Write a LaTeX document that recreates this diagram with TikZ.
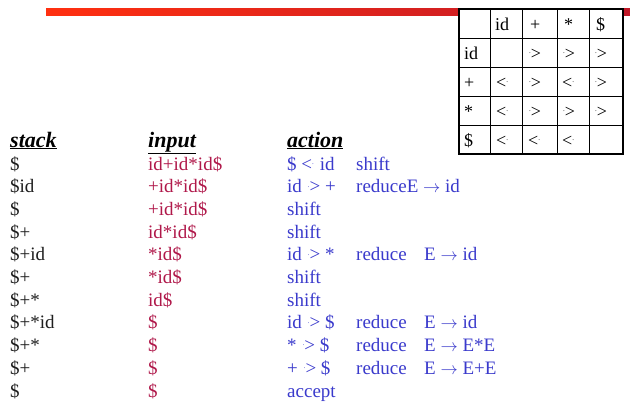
\documentclass[tikz,border=0pt]{standalone}
\usepackage{fontspec}
\setmainfont{Liberation Serif}
\definecolor{inred}{HTML}{B0184A}
\definecolor{actblue}{HTML}{3A3ACC}
\definecolor{stk}{HTML}{1E1E1E}
\definecolor{barA}{HTML}{FF3010}
\definecolor{barB}{HTML}{C01828}
\newcommand\dotgt{{\kern0.15em\llap{\raisebox{0.3em}{\fontsize{7}{7}\selectfont.}}>}}
\newcommand\dotlt{{<\rlap{\raisebox{0.3em}{\fontsize{7}{7}\selectfont.}}\kern0.15em}}
\tikzset{
  txt/.style={anchor=base west, inner sep=0pt, font=\fontsize{19}{22}\selectfont},
  stc/.style={txt, text=stk},
  inp/.style={txt, text=inred},
  act/.style={txt, text=actblue},
  head/.style={anchor=base west, inner sep=0pt, text=black, font=\fontsize{22}{26}\selectfont\bfseries\itshape},
  cell/.style={anchor=base west, inner sep=0pt, text=black, font=\fontsize{18}{21}\selectfont},
  thin/.style={line width=0.8pt, black},
  thick/.style={line width=2pt, black}
}
\begin{document}
\begin{tikzpicture}[x=1pt,y=-1pt]
\useasboundingbox (0,0) rectangle (630,408);
\fill[white] (0,0) rectangle (630,408);
% top bar
\shade[left color=barA, right color=barB] (46,8) rectangle (630,15);
% table
\fill[white] (459,9) rectangle (623,154);
\foreach \x in {490,522,557,589} \draw[thin] (\x,9) -- (\x,154);
\foreach \y in {38,67,96,125} \draw[thin] (459,\y) -- (623,\y);
\draw[thick] (459,9) rectangle (623,154);
% table header row
\node[cell] (h1) at (495,30) {id};
\node[cell] (h2) at (530,30) {+};
\node[cell] (h3) at (564,30) {*};
\node[cell] (h4) at (596,30) {\$};
% row labels
\node[cell] (r1) at (464,59) {id};
\node[cell] (r2) at (464,88) {+};
\node[cell] (r3) at (464,117) {*};
\node[cell] (r4) at (464,146) {\$};
% relations
\node[cell] (c12) at (528,59) {\dotgt};
\node[cell] (c13) at (562,59) {\dotgt};
\node[cell] (c14) at (594,59) {\dotgt};
\node[cell] (c21) at (496,88) {\dotlt};
\node[cell] (c22) at (528,88) {\dotgt};
\node[cell] (c23) at (562,88) {\dotlt};
\node[cell] (c24) at (594,88) {\dotgt};
\node[cell] (c31) at (496,117) {\dotlt};
\node[cell] (c32) at (528,117) {\dotgt};
\node[cell] (c33) at (562,117) {\dotgt};
\node[cell] (c34) at (594,117) {\dotgt};
\node[cell] (c41) at (496,146) {\dotlt};
\node[cell] (c42) at (528,146) {\dotlt};
\node[cell] (c43) at (562,146) {\dotlt};
% headers
\node[head] (hs) at (10,147) {\underline{stack}};
\node[head] (hi) at (148,147) {\underline{input}};
\node[head] (ha) at (287,147) {\underline{action}};
% rows
\foreach \i/\s/\n/\a/\b/\c in {
  0/{\$}/{id+id*id\$}/{\$ \dotlt{} id}/{shift}/{},
  1/{\$id}/{+id*id\$}/{id \dotgt{} +}/{reduceE $\rightarrow$ id}/{},
  2/{\$}/{+id*id\$}/{shift}/{}/{},
  3/{\$+}/{id*id\$}/{shift}/{}/{},
  4/{\$+id}/{*id\$}/{id \dotgt{} *}/{reduce}/{E $\rightarrow$ id},
  5/{\$+}/{*id\$}/{shift}/{}/{},
  6/{\$+*}/{id\$}/{shift}/{}/{},
  7/{\$+*id}/{\$}/{id \dotgt{} \$}/{reduce}/{E $\rightarrow$ id},
  8/{\$+*}/{\$}/{* \dotgt{} \$}/{reduce}/{E $\rightarrow$ E*E},
  9/{\$+}/{\$}/{+ \dotgt{} \$}/{reduce}/{E $\rightarrow$ E+E},
  10/{\$}/{\$}/{accept}/{}/{}}
{
  \pgfmathsetmacro\yy{170+22.7*\i}
  \node[stc] (s\i) at (10,\yy) {\s};
  \node[inp] (n\i) at (148,\yy) {\n};
  \node[act] (a\i) at (287,\yy) {\a};
  \node[act] (b\i) at (356,\yy) {\b};
  \node[act] (e\i) at (424,\yy) {\c};
}
\end{tikzpicture}
\end{document}
